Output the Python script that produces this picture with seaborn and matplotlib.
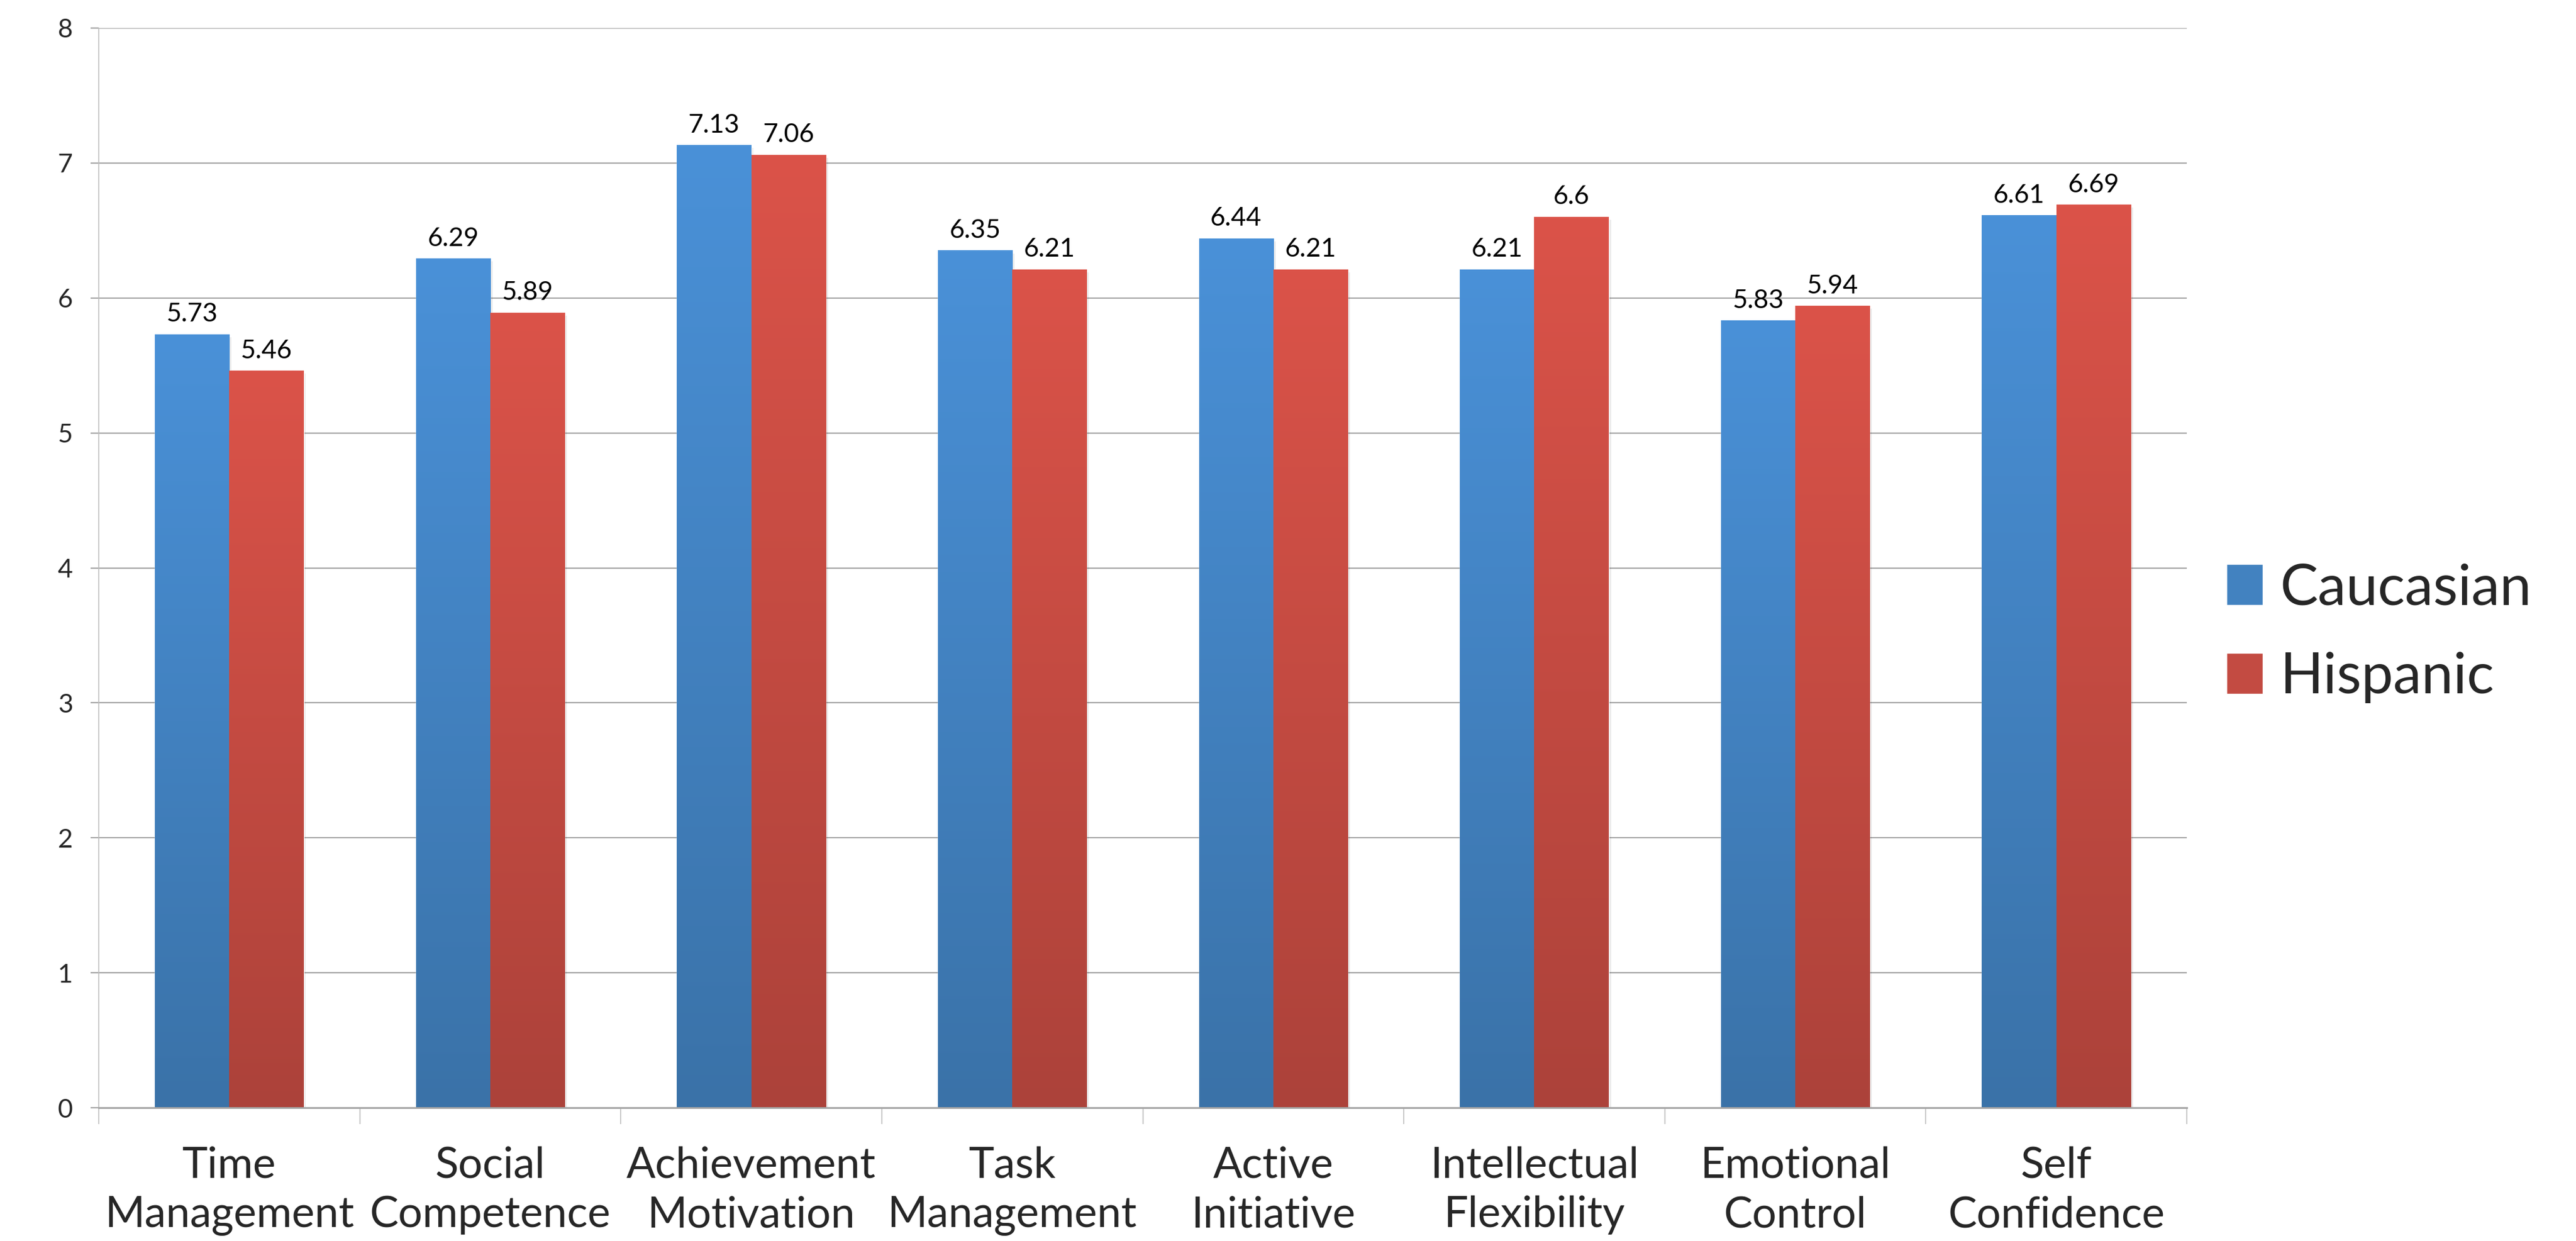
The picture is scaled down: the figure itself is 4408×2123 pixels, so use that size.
import numpy as np
import pandas as pd
import seaborn as sns
import matplotlib.pyplot as plt
from matplotlib.colors import to_rgb
from matplotlib.patches import Patch

categories = ["Time\nManagement", "Social\nCompetence", "Achievement\nMotivation",
              "Task\nManagement", "Active\nInitiative", "Intellectual\nFlexibility",
              "Emotional\nControl", "Self\nConfidence"]
groups = ["Caucasian", "Hispanic"]
caucasian = [5.73, 6.29, 7.13, 6.35, 6.44, 6.21, 5.83, 6.61]
hispanic = [5.46, 5.89, 7.06, 6.21, 6.21, 6.6, 5.94, 6.69]

df = pd.DataFrame({
    "category": categories * 2,
    "group": [groups[0]] * len(categories) + [groups[1]] * len(categories),
    "value": caucasian + hispanic,
})

# top / bottom colours of the gradient fill
grad = {"Caucasian": ("#4A91D8", "#3A72A8"), "Hispanic": ("#DB5349", "#AC423A")}

sns.set_style("white")
plt.rcParams["font.family"] = ["Lato", "DejaVu Sans"]

fig = plt.figure(figsize=(44.08, 21.23), dpi=100)
ax = fig.add_axes([169 / 4408, 1 - 1895 / 2123, (3742 - 169) / 4408, (1895 - 48) / 2123])

sns.barplot(data=df, x="category", y="value", hue="group", hue_order=groups,
            palette=[grad[g][0] for g in groups], width=0.57, gap=0,
            legend=False, ax=ax, zorder=3, saturation=1)

# gradient fill over each bar
for cont, g in zip(ax.containers, groups):
    top, bot = np.array(to_rgb(grad[g][0])), np.array(to_rgb(grad[g][1]))
    t = np.linspace(0, 1, 256)[:, None]
    img = (top * (1 - t) + bot * t)[:, None, :]
    for p in cont:
        x0, y0, w, h = p.get_x(), p.get_y(), p.get_width(), p.get_height()
        # soft shadow
        ax.add_patch(plt.Rectangle((x0 + w * 0.03, y0 - 0.02), w, h, color="#000000",
                                   alpha=0.08, zorder=2, lw=0))
        ax.imshow(img, extent=[x0, x0 + w, y0, y0 + h], aspect="auto",
                  origin="upper", zorder=3.5, interpolation="bilinear")
    ax.bar_label(cont, labels=[f"{v:g}" for v in cont.datavalues], padding=10,
                 fontsize=32, color="black", zorder=5)

ax.set_xlim(-0.5, len(categories) - 0.5)
ax.set_ylim(0, 8)
ax.set_yticks(range(0, 9))
ax.set_xlabel("")
ax.set_ylabel("")

gc = "#A5A5A5"
ax.yaxis.grid(True, color=gc, lw=1.6, zorder=0)
ax.xaxis.grid(False)
for s in ["top", "right"]:
    ax.spines[s].set_visible(False)
ax.spines["left"].set_color("#BDBDBD")
ax.spines["left"].set_linewidth(1.2)
ax.spines["bottom"].set_color(gc)
ax.spines["bottom"].set_linewidth(2.2)
ax.spines["bottom"].set_zorder(6)

ax.tick_params(axis="y", which="major", length=10, width=1.6, color=gc,
               labelsize=32, pad=22, left=True)
ax.tick_params(axis="x", which="major", length=0, labelsize=53, pad=47)
ax.set_xticks(np.arange(-0.5, len(categories), 1.0), minor=True)
ax.tick_params(axis="x", which="minor", length=20, width=1.2, color="#BDBDBD",
               bottom=True)
for lab in ax.get_xticklabels():
    lab.set_linespacing(1.33)

handles = [Patch(facecolor=np.mean([to_rgb(c) for c in grad[g]], axis=0)) for g in groups]
fig.legend(handles, groups, loc="center left", bbox_to_anchor=(3810 / 4408, 1 - 1083 / 2123),
           fontsize=70, frameon=False, handlelength=0.64, handleheight=0.73,
           handletextpad=0.3, labelspacing=0.65, borderaxespad=0, borderpad=0)

fig.savefig("out.png", dpi=100)
